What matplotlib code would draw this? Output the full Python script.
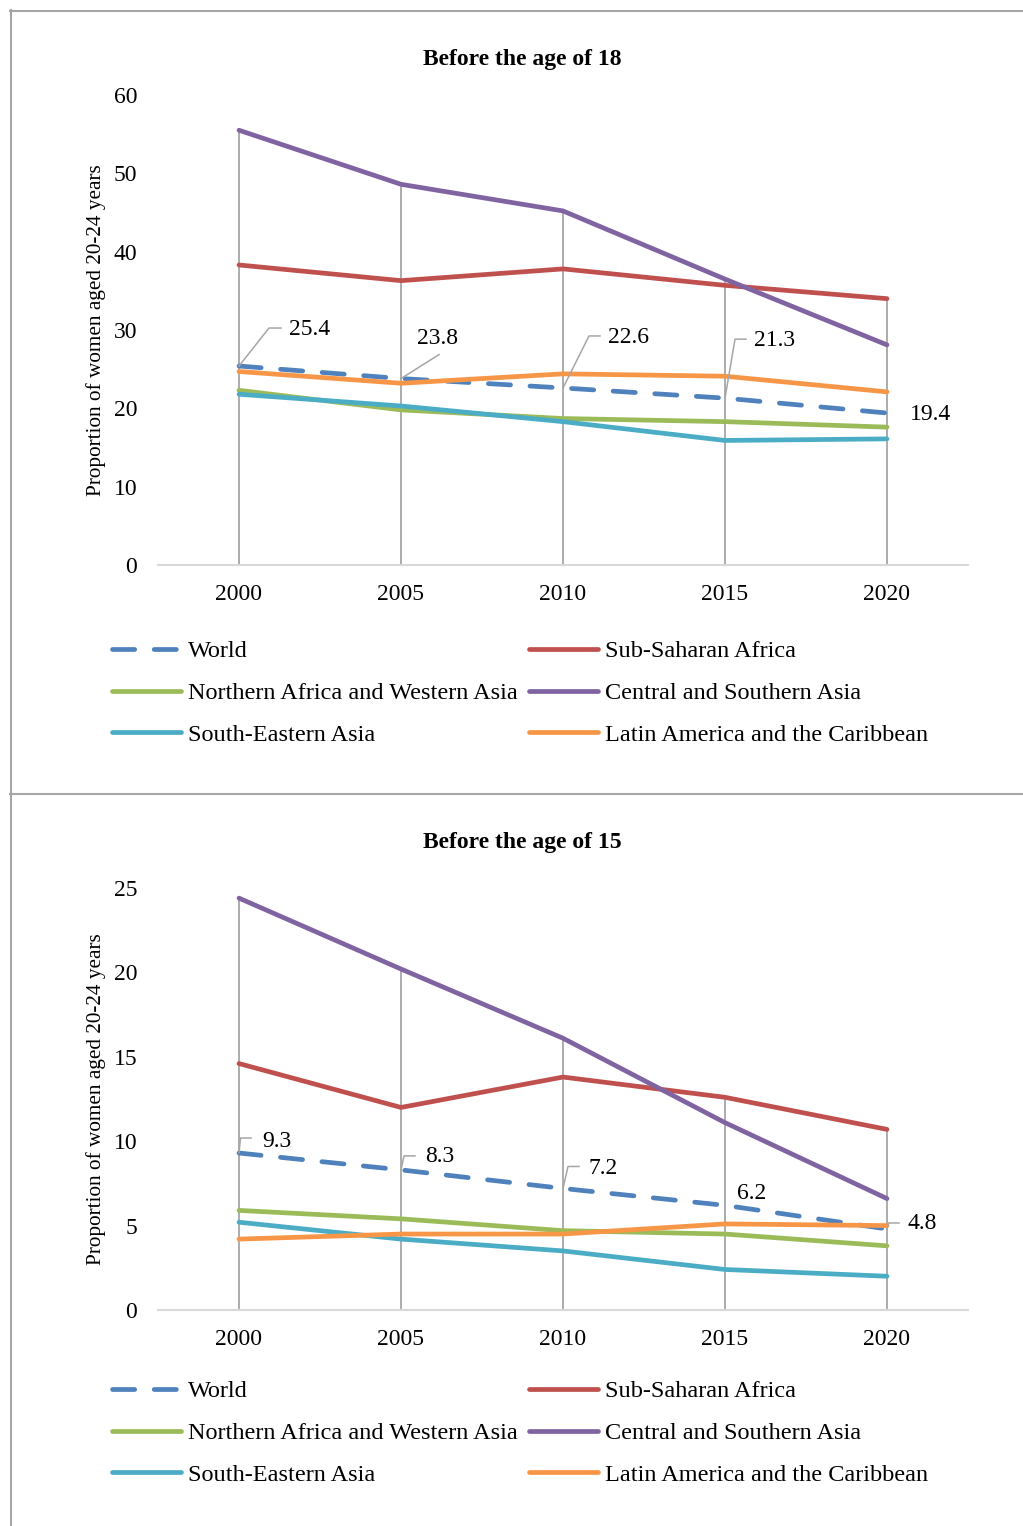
import matplotlib
matplotlib.use('Agg')
import matplotlib.pyplot as plt
import matplotlib.transforms as mtransforms
from matplotlib.lines import Line2D

plt.rcParams['font.family'] = ['Liberation Serif', 'DejaVu Serif']
plt.rcParams['lines.scale_dashes'] = False

# ---------------- data ----------------
years = ['2000', '2005', '2010', '2015', '2020']
series_names = ['World', 'Sub-Saharan Africa', 'Northern Africa and Western Asia',
                'Central and Southern Asia', 'South-Eastern Asia',
                'Latin America and the Caribbean']
colors = ['#4f81bd', '#c0504d', '#9bbb59', '#8064a2', '#4bacc6', '#f79646']

# Before the age of 18
world_18 = [25.4, 23.8, 22.6, 21.3, 19.4]
ssa_18 = [38.3, 36.3, 37.8, 35.7, 34.0]
nawa_18 = [22.3, 19.8, 18.7, 18.3, 17.6]
csa_18 = [55.5, 48.6, 45.2, 36.5, 28.1]
sea_18 = [21.8, 20.3, 18.3, 15.9, 16.1]
lac_18 = [24.7, 23.2, 24.4, 24.1, 22.1]

# Before the age of 15
world_15 = [9.3, 8.3, 7.2, 6.2, 4.8]
ssa_15 = [14.6, 12.0, 13.8, 12.6, 10.7]
nawa_15 = [5.9, 5.4, 4.7, 4.5, 3.8]
csa_15 = [24.4, 20.2, 16.1, 11.1, 6.6]
sea_15 = [5.2, 4.2, 3.5, 2.4, 2.0]
lac_15 = [4.2, 4.5, 4.5, 5.1, 5.0]

titles = ['Before the age of 18', 'Before the age of 15']
ylabel = 'Proportion of women aged 20-24 years'
yticks_18 = [0, 10, 20, 30, 40, 50, 60]
yticks_15 = [0, 5, 10, 15, 20, 25]

FS = 17
LEG_FS = 17.5
GRAY = '#a6a6a6'

W, H = 1023, 1526
fig = plt.figure(figsize=(W / 100, H / 100), dpi=100)


def fx(px):
    return px / W


def fy(py):
    return 1 - py / H


# panel borders
fig.add_artist(Line2D([fx(10), fx(1023)], [fy(10.5), fy(10.5)], color=GRAY, lw=1.5))
fig.add_artist(Line2D([fx(10), fx(1023)], [fy(793.5), fy(793.5)], color=GRAY, lw=1.5))
fig.add_artist(Line2D([fx(10.5), fx(10.5)], [fy(10), fy(1526)], color=GRAY, lw=1.5))


def draw_panel(top_px, bottom_px, data, yticks, title, title_y, labels_cfg, legend_y):
    ax = fig.add_axes([fx(158), fy(bottom_px), (968 - 158) / W, (bottom_px - top_px) / H])
    x = list(range(len(years)))
    ax.set_xlim(-0.5, len(years) - 0.5)
    ax.set_ylim(yticks[0], yticks[-1])
    # drop lines
    maxes = [max(s[i] for s in data) for i in x]
    ax.vlines(x, 0, maxes, colors=GRAY, lw=1.3, zorder=1)
    handles = []
    for k, (s, c, name) in enumerate(zip(data, colors, series_names)):
        if k == 0:
            ln, = ax.plot(x, s, color=c, lw=3.4, dashes=(16, 14), label=name,
                          solid_capstyle='round', dash_capstyle='round', zorder=3)
        else:
            ln, = ax.plot(x, s, color=c, lw=3.4, label=name,
                          solid_capstyle='round', zorder=3)
        handles.append(ln)
    ax.set_xticks(x)
    ax.set_xticklabels(years)
    ax.set_yticks(yticks)
    ax.tick_params(axis='both', length=0, labelsize=FS)
    ax.tick_params(axis='x', pad=14)
    ax.tick_params(axis='y', pad=15)
    for sp in ['top', 'right', 'left']:
        ax.spines[sp].set_visible(False)
    ax.spines['bottom'].set_color('#d9d9d9')
    ax.spines['bottom'].set_linewidth(1.5)
    ax.set_ylabel(ylabel, fontsize=15.3)
    ax.yaxis.set_label_coords((106 - 158) / (968 - 158), 0.5)
    fig.text(fx(522), fy(title_y), title, ha='center', va='center',
             fontsize=FS, fontweight='bold')

    # world data labels with leader lines (offsets in pixels)
    world = data[0]
    for i, (tdx, tdy, ha, leader) in enumerate(labels_cfg):
        ax.annotate(f'{world[i]:.1f}', xy=(i, world[i]), xytext=(tdx, tdy),
                    textcoords='offset pixels', ha=ha, va='center', fontsize=FS, zorder=5)
        if leader is not None:
            cdx, cdy, edx = leader
            tr = mtransforms.IdentityTransform() + mtransforms.ScaledTranslation(i, world[i], ax.transData)
            xs = [0, cdx] + ([edx] if edx is not None else [])
            ys = [0, cdy] + ([cdy] if edx is not None else [])
            ln = Line2D(xs, ys, transform=tr, color=GRAY, lw=1.1, zorder=4)
            ln.set_clip_on(False)
            ax.add_artist(ln)

    order = [0, 2, 4, 1, 3, 5]
    fig.legend([handles[k] for k in order], [series_names[k] for k in order],
               loc='center', bbox_to_anchor=(fx(520), fy(legend_y)), ncol=2,
               frameon=False, fontsize=LEG_FS, handlelength=2.85, handletextpad=0.3,
               columnspacing=0.45, labelspacing=0.82, borderpad=0)
    return ax


data_18 = [world_18, ssa_18, nawa_18, csa_18, sea_18, lac_18]
data_15 = [world_15, ssa_15, nawa_15, csa_15, sea_15, lac_15]

labels_18 = [
    (50, 37, 'left', (30, 38, 42)),
    (37, 40, 'center', (38, 24, None)),
    (45, 50, 'left', (26, 52, 37)),
    (29, 58, 'left', (10, 59, 21)),
    (23, -1, 'left', None),
]
labels_15 = [
    (23, 12, 'left', (1.5, 15, 12)),
    (24, 13, 'left', (3, 14, 14)),
    (25, 20, 'left', (5, 22, 16)),
    (27, 12, 'center', None),
    (20, 5, 'left', (1.5, 6, 12)),
]

draw_panel(95, 565, data_18, yticks_18, titles[0], 59, labels_18, 693)
draw_panel(888, 1310, data_15, yticks_15, titles[1], 842, labels_15, 1433)

fig.savefig('out.png', dpi=100)
